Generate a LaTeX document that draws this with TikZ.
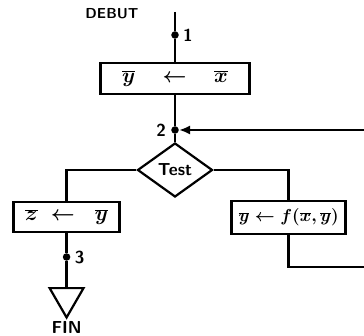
\documentclass[tikz,border=0pt]{standalone}
\usetikzlibrary{arrows.meta,calc,positioning,shapes.geometric}
\tikzset{
  flow box/.style={
    draw=black,
    line width=2.2pt,
    fill=white,
    inner sep=2pt,
    font=\huge\boldmath,
  },
  flow test/.style={
    diamond,
    draw=black,
    line width=2.2pt,
    inner sep=0pt,
    minimum width=2.625cm,
    minimum height=1.89cm,
    font=\LARGE\sffamily\bfseries,
  },
  flow dot/.style={circle, fill=black, inner sep=0pt, minimum size=7.5pt},
  flow end/.style={
    regular polygon,
    regular polygon sides=3,
    shape border rotate=180,
    draw=black,
    line width=2.2pt,
    inner sep=0pt,
    minimum size=1.37cm,
  },
  flow line/.style={line width=2.2pt, draw=black},
  flow back/.style={-{Latex[length=11pt,width=9pt]}, line width=2.2pt, draw=black},
  flow label/.style={font=\LARGE\sffamily\bfseries, inner sep=1pt},
}

\begin{document}
\begin{tikzpicture}[>=Latex]
  \useasboundingbox (0,0) rectangle (12.74cm,11.725cm);

  % --- Entry and first assignment ---
  \coordinate (start) at (6.125cm,11.305cm);
  \node[flow label, font=\Large\sffamily\bfseries] (debut) at (3.92cm,11.235cm) {DEBUT};
  \node[flow dot] (p1) at (6.125cm,10.5cm) {};
  \node[flow label, right=3pt of p1] (l1) {1};

  \node[flow box, minimum width=5.215cm, minimum height=1.085cm]
    (assign1) at (6.125cm,8.978cm) {$\overline{y} \quad\leftarrow\quad \overline{x}$};

  % --- Junction point 2 and the test ---
  \node[flow dot] (p2) at (6.125cm,7.175cm) {};
  \node[flow label, left=4pt of p2] (l2) {2};

  \node[flow test] (test) at (6.125cm,5.775cm) {Test};

  % --- Left branch: leave the loop ---
  \node[flow box, minimum width=3.71cm, minimum height=1.05cm]
    (assignz) at (2.33cm,4.13cm) {$\overline{z} \;\leftarrow\;\; \overline{y}$};
  \node[flow dot] (p3) at (2.33cm,2.73cm) {};
  \node[flow label, right=3pt of p3] (l3) {3};
  \node[flow end, anchor=north] (fin) at (2.33cm,1.68cm) {};
  \node[flow label] (finlabel) at (2.33cm,0.28cm) {FIN};

  % --- Right branch: update, then back to 2 ---
  \node[flow box, font=\LARGE\boldmath, minimum width=3.99cm, minimum height=1.155cm]
    (update) at (10.1cm,4.11cm) {$\overline{y}\leftarrow f(\overline{x},\overline{y})$};
  \coordinate (loopout) at (12.74cm,2.38cm);
  \coordinate (loopin) at (12.74cm,7.175cm);

  % --- Connectors ---
  \draw[flow line] (start) -- (p1) -- (assign1);
  \draw[flow line] (assign1) -- (p2) -- (test);
  \draw[flow line] (test.west) -| (assignz.north);
  \draw[flow line] (assignz) -- (p3) -- (fin.north);
  \draw[flow line] (test.east) -| (update.north);
  \draw[flow line] (update.south) |- (loopout);
  \draw[flow back] (loopin) -- (p2);

\end{tikzpicture}
\end{document}
